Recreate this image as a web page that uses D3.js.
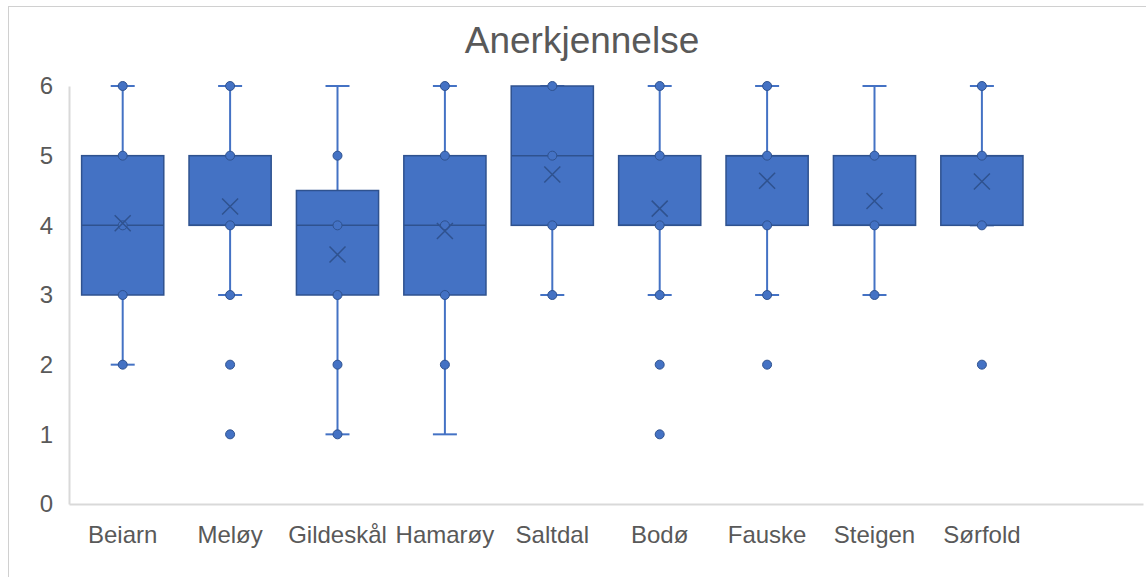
<!DOCTYPE html>
<html>
<head>
<meta charset="utf-8">
<script src="https://cdn.jsdelivr.net/npm/d3@7"></script>
<style>
  body { margin: 0; background: #fff; }
  svg { display: block; font-family: "Liberation Sans", Arial, sans-serif; }
</style>
</head>
<body>
<svg id="chart" width="1146" height="577"></svg>
<script>
const title = "Anerkjennelse";
const categories = ["Beiarn", "Meløy", "Gildeskål", "Hamarøy", "Saltdal", "Bodø", "Fauske", "Steigen", "Sørfold"];
const whiskerLow  = [2, 3, 1, 1, 3, 3, 3, 3, 4];
const q1          = [3, 4, 3, 3, 4, 4, 4, 4, 4];
const median      = [4, 4, 4, 4, 5, 4, 5, 4, 5];
const q3          = [5, 5, 4.5, 5, 6, 5, 5, 5, 5];
const whiskerHigh = [6, 6, 6, 6, 6, 6, 6, 6, 6];
const means       = [4.03, 4.27, 3.58, 3.92, 4.73, 4.24, 4.64, 4.35, 4.63];
const innerPoints = [
  [2, 3, 4, 5, 6],
  [3, 4, 5, 6],
  [1, 2, 3, 4, 5],
  [2, 3, 4, 5, 6],
  [3, 4, 5, 6],
  [3, 4, 5, 6],
  [3, 4, 5, 6],
  [3, 4, 5],
  [4, 5, 6]
];
const outliers = [
  [],
  [1, 2],
  [],
  [],
  [],
  [1, 2],
  [2],
  [],
  [2]
];
const yTicks = [0, 1, 2, 3, 4, 5, 6];

const fill = "#4472C4";
const dark = "#2F528F";
const textColor = "#595959";
const axisColor = "#D9D9D9";

const svg = d3.select("#chart");

// chart border
svg.append("rect").attr("x", 8.5).attr("y", 6.5).attr("width", 1150).attr("height", 590)
  .attr("fill", "#fff").attr("stroke", "#D0D0D0").attr("stroke-width", 1);

const plotLeft = 69, plotRight = 1143, plotTop = 86, plotBottom = 504;

const x = d3.scaleBand().domain([...categories, "_empty_"]).range([plotLeft, plotRight]).paddingInner(0).paddingOuter(0);
const y = d3.scaleLinear().domain([0, 6]).range([plotBottom, plotTop]);

svg.append("text").attr("x", 582).attr("y", 53).attr("text-anchor", "middle")
  .attr("font-size", 37).attr("fill", textColor).text(title);

// axes
const yAxis = d3.axisLeft(y).tickValues(yTicks).tickSize(0).tickPadding(16).tickFormat(d3.format("d"));
const gy = svg.append("g").attr("transform", `translate(${plotLeft},0)`).call(yAxis);
gy.select(".domain").attr("stroke", axisColor).attr("stroke-width", 2);
gy.selectAll("text").attr("font-size", 24).attr("fill", textColor).attr("font-family", "Liberation Sans, Arial, sans-serif");

const xAxis = d3.axisBottom(x).tickSize(0).tickPadding(22).tickFormat(d => d === "_empty_" ? "" : d);
const gx = svg.append("g").attr("transform", `translate(0,${plotBottom})`).call(xAxis);
gx.select(".domain").attr("stroke", axisColor).attr("stroke-width", 2);
gx.selectAll("text").attr("font-size", 24).attr("fill", textColor).attr("font-family", "Liberation Sans, Arial, sans-serif");

const bw = x.bandwidth() * 0.765;
const capW = 24;

const groups = svg.append("g").selectAll("g").data(categories).join("g")
  .attr("transform", d => `translate(${x(d) + x.bandwidth() / 2},0)`);

// whiskers
groups.append("line").attr("x1", 0).attr("x2", 0)
  .attr("y1", (d, i) => y(whiskerHigh[i])).attr("y2", (d, i) => y(q3[i]))
  .attr("stroke", fill).attr("stroke-width", 2);
groups.append("line").attr("x1", 0).attr("x2", 0)
  .attr("y1", (d, i) => y(q1[i])).attr("y2", (d, i) => y(whiskerLow[i]))
  .attr("stroke", fill).attr("stroke-width", 2);
groups.append("line").attr("x1", -capW / 2).attr("x2", capW / 2)
  .attr("y1", (d, i) => y(whiskerHigh[i])).attr("y2", (d, i) => y(whiskerHigh[i]))
  .attr("stroke", fill).attr("stroke-width", 2);
groups.append("line").attr("x1", -capW / 2).attr("x2", capW / 2)
  .attr("y1", (d, i) => y(whiskerLow[i])).attr("y2", (d, i) => y(whiskerLow[i]))
  .attr("stroke", fill).attr("stroke-width", 2);

// box
groups.append("rect").attr("x", -bw / 2).attr("width", bw)
  .attr("y", (d, i) => y(q3[i])).attr("height", (d, i) => y(q1[i]) - y(q3[i]))
  .attr("fill", fill).attr("stroke", dark).attr("stroke-width", 1.5);
groups.append("line").attr("x1", -bw / 2).attr("x2", bw / 2)
  .attr("y1", (d, i) => y(median[i])).attr("y2", (d, i) => y(median[i]))
  .attr("stroke", dark).attr("stroke-width", 1.5);

// inner points and outliers
groups.each(function (d, i) {
  const g = d3.select(this);
  g.selectAll("circle.inner").data(innerPoints[i]).join("circle").attr("class", "inner")
    .attr("cx", 0).attr("cy", v => y(v)).attr("r", 4.5)
    .attr("fill", fill).attr("stroke", dark).attr("stroke-width", 1);
  g.selectAll("circle.out").data(outliers[i]).join("circle").attr("class", "out")
    .attr("cx", 0).attr("cy", v => y(v)).attr("r", 4.5)
    .attr("fill", fill).attr("stroke", dark).attr("stroke-width", 1);
});

// mean markers (X)
const m = 8;
groups.append("path")
  .attr("d", (d, i) => {
    const cy = y(means[i]);
    return `M${-m},${cy - m}L${m},${cy + m}M${-m},${cy + m}L${m},${cy - m}`;
  })
  .attr("stroke", dark).attr("stroke-width", 1.5).attr("fill", "none");
</script>
</body>
</html>
